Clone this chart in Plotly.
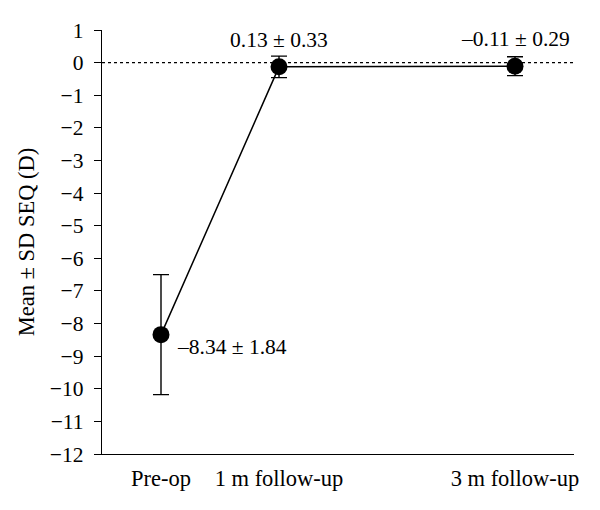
import plotly.graph_objects as go

categories = ["Pre-op", "1 m follow-up", "3 m follow-up"]
months = [0, 1, 3]
means = [-8.34, -0.13, -0.11]
sds = [1.84, 0.33, 0.29]
labels = ["–8.34 ± 1.84", "0.13 ± 0.33", "–0.11 ± 0.29"]
y_ticks = list(range(1, -13, -1))

FONT = "Liberation Serif"

fig = go.Figure()

# dotted zero line
fig.add_shape(type="line", xref="paper", yref="y", x0=0, x1=1, y0=0, y1=0,
              line=dict(color="black", width=1.2, dash="dot"))

fig.add_trace(go.Scatter(
    x=months, y=means, mode="lines+markers",
    line=dict(color="black", width=1.5),
    marker=dict(color="black", size=17),
    error_y=dict(type="data", array=sds, visible=True, color="black",
                 thickness=1.4, width=8),
    showlegend=False,
))

# value labels
fig.add_annotation(x=months[0], y=means[0], text=labels[0], showarrow=False,
                   xanchor="left", yanchor="middle", xshift=14, yshift=-12,
                   font=dict(family=FONT, size=21.5, color="black"))
for i in (1, 2):
    fig.add_annotation(x=months[i], y=means[i], text=labels[i], showarrow=False,
                       xanchor="center", yanchor="middle", yshift=27,
                       font=dict(family=FONT, size=21.5, color="black"))

fig.update_layout(
    width=600, height=510,
    margin=dict(l=102, r=26, t=30, b=56),
    plot_bgcolor="white", paper_bgcolor="white",
    font=dict(family=FONT, size=21, color="black"),
    xaxis=dict(range=[-0.5, 3.5], tickvals=months, ticktext=categories,
               showline=True, linecolor="black", linewidth=1.4,
               showgrid=False, zeroline=False, ticks="",
               ticklabelstandoff=4,
               tickfont=dict(family=FONT, size=22.5, color="black")),
    yaxis=dict(range=[-12, 1], tickvals=y_ticks,
               showline=True, linecolor="black", linewidth=1.4,
               showgrid=False, zeroline=False, ticks="outside", ticklen=7,
               tickcolor="black", tickwidth=1.3, ticklabelstandoff=6,
               tickfont=dict(family=FONT, size=21.5, color="black"),
               title=dict(text="Mean ± SD SEQ (D)",
                          font=dict(family=FONT, size=22.5, color="black"),
                          standoff=8)),
)

fig.write_html("out.html")
